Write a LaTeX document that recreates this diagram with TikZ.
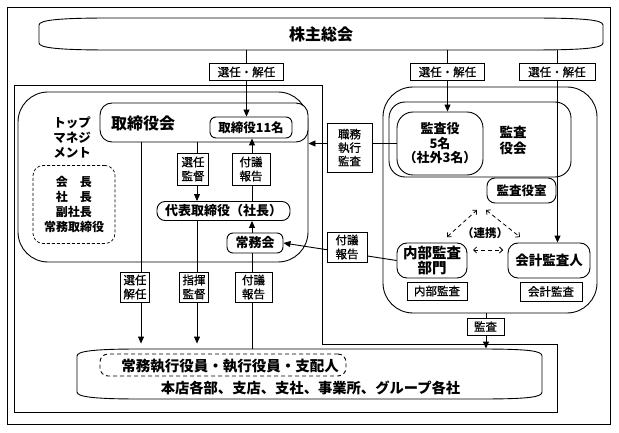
\documentclass[tikz,border=0pt]{standalone}
\usepackage{fontspec}
\setmainfont{Noto Sans CJK JP}
\newfontfamily\lblfont{Noto Sans CJK JP}[FakeBold=0.8]
\usetikzlibrary{arrows.meta}
\newcommand\myfs[2]{\fontsize{#1}{#2}\selectfont}
\begin{document}
\begin{tikzpicture}[x=1pt,y=-1pt,line width=0.9pt,
  arr/.style={-{Triangle[length=7pt,width=6pt]}},
  darr/.style={dashed,dash pattern=on 4pt off 3pt,line width=0.8pt,{Straight Barb[length=3pt,width=6pt]}-{Straight Barb[length=3pt,width=6pt]}},
  lbl/.style={draw,fill=white,inner sep=0pt,align=center,font=\lblfont\myfs{11.5}{14}},
  bx/.style={draw,fill=white,inner sep=0pt,align=center,font=\bfseries\myfs{12.5}{14}},
  txt/.style={inner sep=0pt,align=center,font=\bfseries\myfs{12.5}{15}}]
\useasboundingbox (0,0) rectangle (619,433);
% outer frame
\draw (7,7) rectangle (610,424);
% shareholders bar
\node[inner sep=0pt,minimum width=564,minimum height=32,font=\bfseries\myfs{16}{18}] (sh) at (321,34) {株主総会};
\draw (39,25) .. controls (39,20) and (60,18) .. (110,18) -- (530,18) .. controls (585,18) and (603,20) .. (603,25) -- (603,43) .. controls (603,48) and (585,50) .. (530,50) -- (110,50) .. controls (60,50) and (39,48) .. (39,43) -- cycle;
% executive region
\draw (14,85) -- (322,85) -- (322,344) -- (557,344) -- (557,412) -- (14,412) -- cycle;
% bottom organisation
\node[inner sep=0pt,minimum width=465,minimum height=50] (org) at (309.5,374) {};
\draw (77,356) .. controls (77,351) and (95,349) .. (140,349) -- (480,349) .. controls (530,349) and (542,351) .. (542,356) -- (542,392) .. controls (542,397) and (530,399) .. (480,399) -- (140,399) .. controls (95,399) and (77,397) .. (77,392) -- cycle;
\node[draw,dashed,dash pattern=on 4pt off 3pt,rounded corners=8,minimum width=246,minimum height=22] (shikko) at (223,365) {};
\node[txt,font=\bfseries\myfs{14.5}{16}] (shikkotxt) at (230,366) {常務執行役員・執行役員・支配人};
\node[txt,font=\bfseries\myfs{14.3}{16}] (honten) at (310.5,388) {本店各部、支店、支社、事業所、グループ各社};
% top management
\node[draw,rounded corners=30,minimum width=290,minimum height=170] (topmg) at (163,177) {};
\node[txt] (topmgtxt) at (72,137) {トップ\\マネジ\\メント};
\node[draw,dashed,dash pattern=on 3pt off 2pt,line width=0.7pt,rounded corners=10,minimum width=82,minimum height=78,inner sep=0pt,align=center,font=\bfseries\myfs{12}{15}] (yaku) at (74,204.5) {会　長\\社　長\\副社長\\常務取締役};
\node[draw,fill=white,rounded corners=12,minimum width=208,minimum height=39] (torikai) at (204,122.5) {};
\node[txt,font=\bfseries\myfs{16}{18}] (torikaitxt) at (143,123) {取締役会};
\node[bx,rounded corners=6,minimum width=82,minimum height=21] (tori11) at (251,127.5) {取締役11名};
\node[bx,rounded corners=8,minimum width=133,minimum height=19,font=\bfseries\myfs{13}{14}] (daihyo) at (223.5,211) {代表取締役（社長）};
\node[bx,rounded corners=6,minimum width=56,minimum height=20,font=\bfseries\myfs{13}{14}] (jomu) at (255,243) {常務会};
% audit region
\node[draw,rounded corners=30,minimum width=214,minimum height=226] (audit) at (490,200) {};
\node[draw,rounded corners=16,minimum width=182,minimum height=75] (kansakai) at (480,139.5) {};
\node[bx,rounded corners=16,minimum width=86,minimum height=63,font=\bfseries\myfs{13}{14.5}] (kansayaku) at (440,143.5) {監査役\\5名\\（社外3名）};
\node[txt,font=\bfseries\myfs{13.5}{16}] (kansakaitxt) at (513,140) {監査\\役会};
\node[bx,rounded corners=8,minimum width=69,minimum height=25] (kshitsu) at (521.5,190.5) {監査役室};
\node[bx,rounded corners=10,minimum width=82,minimum height=35,font=\bfseries\myfs{13.5}{15}] (kaikei) at (549,260.5) {会計監査人};
\node[bx,rounded corners=10,minimum width=70,minimum height=35,font=\bfseries\myfs{14.5}{15.5}] (naibu) at (432,260.5) {内部監査\\部門};
\node[txt,font=\bfseries\myfs{11.5}{14}] (renkei) at (485,233) {（連携）};
% coordinates
\coordinate (xa) at (246.5,0);
\coordinate (xb) at (447.5,0);
\coordinate (xc) at (557.5,0);
\coordinate (v1) at (141,0);
\coordinate (v2) at (197,0);
\coordinate (v3) at (252,0);
\coordinate (xk) at (486,0);
\coordinate (d1) at (447,237);
\coordinate (d2) at (477,210);
\coordinate (d3) at (486,210);
\coordinate (d4) at (520,237);
\coordinate (d5) at (473,250);
\coordinate (d6) at (503,250);
% connectors
\draw[arr] (sh.south -| xa) -- (tori11.north -| xa);
\draw[arr] (sh.south -| xb) -- (kansayaku.north -| xb);
\draw[arr] (sh.south -| xc) -- (kaikei.north -| xc);
\draw[arr,shorten >=5pt] (torikai.south -| v1) -- (org.north -| v1);
\draw[arr] (torikai.south -| v2) -- (daihyo.north -| v2);
\draw[arr,shorten >=5pt] (daihyo.south -| v2) -- (org.north -| v2);
\draw[arr] (daihyo.north -| v3) -- (tori11.south -| v3);
\draw[arr] (jomu.north -| v3) -- (daihyo.south -| v3);
\draw (org.north -| v3) -- (jomu.south -| v3);
\draw[arr] (kansayaku.west) -- (topmg.east |- kansayaku.west);
\draw[arr] (naibu.west) -- (jomu.east);
\draw[arr] (audit.south -| xk) -- (org.north -| xk);
\draw[darr] (d1) -- (d2);
\draw[darr] (d3) -- (d4);
\draw[darr] (d5) -- (d6);
% labels
\node[lbl,minimum width=74,minimum height=17] (s1) at (246.5,72) {選任・解任};
\node[lbl,minimum width=74,minimum height=17] (s2) at (447.5,72) {選任・解任};
\node[lbl,minimum width=76,minimum height=17] (s3) at (557,72) {選任・解任};
\node[lbl,minimum width=31,minimum height=32] (lbB) at (193,169) {選任\\監督};
\node[lbl,minimum width=38,minimum height=32] (lbD) at (251,169) {付議\\報告};
\node[lbl,minimum width=29,minimum height=30] (lbA) at (135,287) {選任\\解任};
\node[lbl,minimum width=29,minimum height=30] (lbC) at (194,287) {指揮\\監督};
\node[lbl,minimum width=37,minimum height=30] (lbE) at (253.5,287) {付議\\報告};
\node[lbl,minimum width=45,minimum height=49,font=\lblfont\myfs{11.5}{13.5}] (lbF) at (349.5,147.5) {職務\\執行\\監査};
\node[lbl,minimum width=40,minimum height=30] (lbG) at (347,247) {付議\\報告};
\node[lbl,minimum width=60,minimum height=18] (lbN) at (437,291) {内部監査};
\node[lbl,minimum width=62,minimum height=19] (lbK) at (551,291.5) {会計監査};
\node[lbl,minimum width=37,minimum height=17] (lbM) at (485.5,326.5) {監査};
\end{tikzpicture}
\end{document}
